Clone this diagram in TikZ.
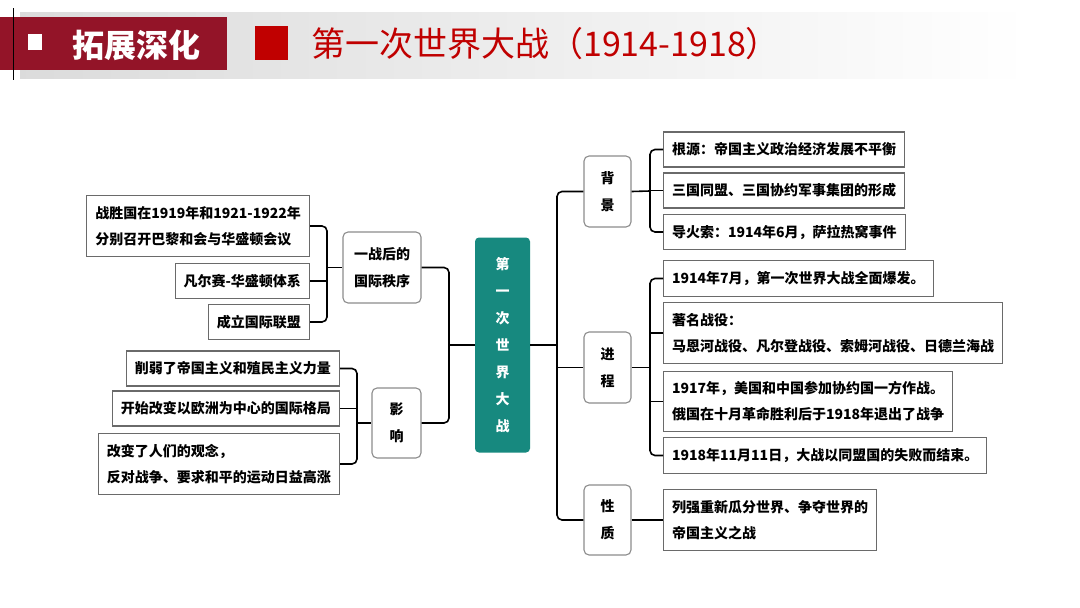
\documentclass[tikz,border=0pt]{standalone}
\usepackage{fontspec}
\newfontfamily\cjk{Noto Sans CJK SC}
\usetikzlibrary{calc}
\definecolor{hdrred}{HTML}{931428}
\definecolor{titred}{HTML}{C00000}
\definecolor{teal}{HTML}{17897F}
\definecolor{boxline}{HTML}{6A6A6A}
\definecolor{catline}{HTML}{8C8C8C}
\tikzset{
  leaf/.style={draw=boxline, line width=1.1pt, fill=white, inner xsep=8.5pt, inner ysep=10.5pt,
    minimum height=35pt, align=left, font=\cjk\bfseries\fontsize{14}{26}\selectfont},
  cat/.style={draw=catline, line width=1.1pt, rounded corners=5pt, fill=white, inner sep=0pt,
    align=center, font=\cjk\bfseries\fontsize{14}{27}\selectfont},
  conn/.style={draw=black, line width=1.6pt, rounded corners=5pt},
}
\begin{document}
\begin{tikzpicture}[x=1pt,y=-1pt]
\useasboundingbox (0,0) rectangle (1080,608);
\fill[white] (0,0) rectangle (1080,608);
% header
\shade[left color=black!14, right color=white] (20,12) rectangle (1030,78);
\fill[hdrred] (0,17) rectangle (227,70);
\draw[black, line width=1pt] (13,8) -- (13,80);
\fill[white] (28,34) rectangle (42,50);
\node[text=white, font=\cjk\bfseries\fontsize{32}{32}\selectfont, inner sep=0pt, anchor=west] (hdr) at (72,45) {拓展深化};
\fill[titred] (255,26) rectangle (288,60);
\node[text=titred, font=\cjk\fontsize{34}{34}\selectfont, inner sep=0pt, anchor=west] (title) at (311,44) {第一次世界大战（1914-1918）};

% center
\node[fill=teal, rounded corners=4pt, minimum width=55pt, minimum height=215pt, inner sep=0pt,
  text=white, align=center, font=\cjk\bfseries\fontsize{14}{27}\selectfont] (ctr) at (502.5,345) {第\\一\\次\\世\\界\\大\\战};

% category boxes
\node[cat, minimum width=78pt, minimum height=71pt] (order) at (382,267.5) {一战后的\\国际秩序};
\node[cat, minimum width=49pt, minimum height=70pt] (impact) at (396.5,423) {影\\响};
\node[cat, minimum width=47pt, minimum height=71pt] (bg) at (607.5,191.5) {背\\景};
\node[cat, minimum width=47pt, minimum height=71pt] (jc) at (607.5,367.5) {进\\程};
\node[cat, minimum width=47pt, minimum height=70pt] (xz) at (607.5,520) {性\\质};

% left leaves
\node[leaf, anchor=east] (l1) at (310,226) {战胜国在1919年和1921-1922年\\分别召开巴黎和会与华盛顿会议};
\node[leaf, anchor=east] (l2) at (310,281) {凡尔赛-华盛顿体系};
\node[leaf, anchor=east] (l3) at (310,322) {成立国际联盟};
\node[leaf, anchor=east] (l4) at (340,368.5) {削弱了帝国主义和殖民主义力量};
\node[leaf, anchor=east] (l5) at (340,408.5) {开始改变以欧洲为中心的国际格局};
\node[leaf, anchor=east] (l6) at (340,464) {改变了人们的观念，\\反对战争、要求和平的运动日益高涨};

% right leaves
\node[leaf, anchor=west] (r1) at (663,149.5) {根源：帝国主义政治经济发展不平衡};
\node[leaf, anchor=west] (r2) at (663,190.5) {三国同盟、三国协约军事集团的形成};
\node[leaf, anchor=west] (r3) at (663,232) {导火索：1914年6月，萨拉热窝事件};
\node[leaf, anchor=west] (r4) at (663,278.5) {1914年7月，第一次世界大战全面爆发。};
\node[leaf, anchor=west] (r5) at (663,333) {著名战役：\\马恩河战役、凡尔登战役、索姆河战役、日德兰海战};
\node[leaf, anchor=west] (r6) at (663,401.5) {1917年，美国和中国参加协约国一方作战。\\俄国在十月革命胜利后于1918年退出了战争};
\node[leaf, anchor=west] (r7) at (663,455.5) {1918年11月11日，大战以同盟国的失败而结束。};
\node[leaf, anchor=west] (r8) at (663,520) {列强重新瓜分世界、争夺世界的\\帝国主义之战};

% coordinates for trunks
\coordinate (LT) at (449,345);
\coordinate (RT) at (557,345);
\coordinate (BO) at (327,267.5);
\coordinate (BI) at (357,423);
\coordinate (BB) at (650,191);
\coordinate (BP) at (650,367.5);

% connectors
\draw[conn] (order.east) -| (LT) |- (impact.east);
\draw[conn] (ctr.west) -- (LT);
\draw[conn] (bg.west) -| (RT) |- (xz.west);
\draw[conn] (jc.west) -- (jc.west -| RT);
\draw[conn] (ctr.east) -- (RT);

\draw[conn] (l1.east) -| (BO) |- (l3.east);
\draw[conn] (l2.east) -- (l2.east -| BO);
\draw[conn] (BO) -- (order.west);

\draw[conn] (l4.east) -| (BI) |- (l6.east);
\draw[conn] (l5.east) -- (l5.east -| BI);
\draw[conn] (BI) -- (impact.west);

\draw[conn] (r1.west) -| (BB) |- (r3.west);
\draw[conn] (r2.west) -- (r2.west -| BB);
\draw[conn] (bg.east) -- (BB);

\draw[conn] (r4.west) -| (BP) |- (r7.west);
\draw[conn] (r5.west) -- (r5.west -| BP);
\draw[conn] (r6.west) -- (r6.west -| BP);
\draw[conn] (jc.east) -- (BP);

\draw[conn] (xz.east) -- (r8.west);
\end{tikzpicture}
\end{document}
